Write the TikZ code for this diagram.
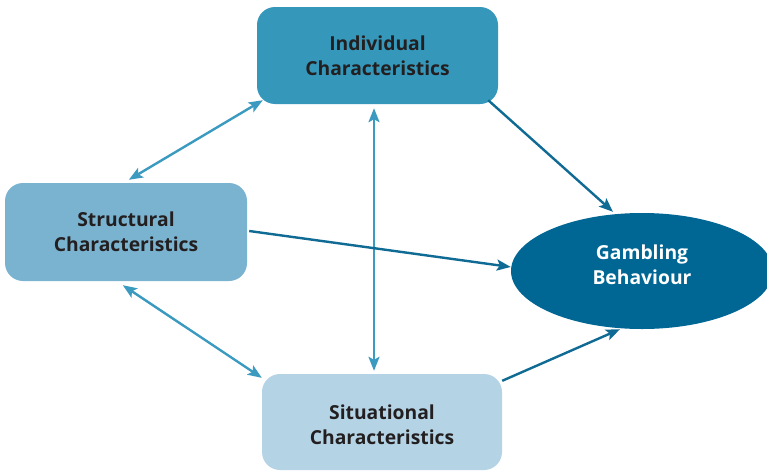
\documentclass[tikz,border=0pt]{standalone}
\usepackage{fontspec}
\setmainfont{Open Sans}
\usetikzlibrary{arrows.meta,shapes.geometric,calc}
\definecolor{indc}{HTML}{3597BA}
\definecolor{strc}{HTML}{7AB3D0}
\definecolor{sitc}{HTML}{B4D4E6}
\definecolor{gamc}{HTML}{006795}
\definecolor{lightarr}{HTML}{3A9AC0}
\definecolor{darkarr}{HTML}{0F6A94}
\definecolor{txt}{HTML}{231F20}
\tikzset{
  lbl/.style={align=center, font=\fontsize{19.3}{25}\selectfont\bfseries},
  box/.style={lbl, rounded corners=18pt, inner sep=0pt, text=txt},
  biarr/.style={draw=lightarr, line width=2.4pt,
    {Stealth[length=14pt,width=11pt,inset=3pt]}-{Stealth[length=14pt,width=11pt,inset=3pt]}},
  toarr/.style={draw=darkarr, line width=2.4pt,
    -{Stealth[length=14pt,width=11pt,inset=3pt]}}
}
\begin{document}
\begin{tikzpicture}[x=1pt,y=-1pt]
\useasboundingbox[fill=white] (0,0) rectangle (767,471);
\node[box, fill=indc, minimum width=241pt, minimum height=97pt] (ind) at (377.5,55.5) {Individual\\Characteristics};
\node[box, fill=strc, minimum width=242pt, minimum height=98pt] (str) at (126,232) {Structural\\Characteristics};
\node[box, fill=sitc, minimum width=240pt, minimum height=96pt] (sit) at (382,422) {\raisebox{0pt}[\dimexpr\height+10pt\relax][\depth]{\begin{tabular}{@{}c@{}}Situational\\Characteristics\end{tabular}}};
\node[lbl, ellipse, fill=gamc, inner sep=0pt, minimum width=262pt, minimum height=116pt,
  text=white] (gam) at (642,271) {\raisebox{0pt}[\height][\dimexpr\depth+8pt\relax]{\begin{tabular}{@{}c@{}}Gambling\\Behaviour\end{tabular}}};
% bidirectional
\draw[biarr] ($(str.north west)+(124,-3)$) -- ($(ind.south west)+(6,-4)$);
\draw[biarr] ($(ind.south)+(-3.5,4)$) -- ($(sit.north)+(-8,-3)$);
\draw[biarr] ($(str.south west)+(118,4)$) -- ($(sit.north west)+(0,4)$);
% to gambling
\draw[toarr] ($(ind.south east)+(-10,-4)$) -- ($(gam.north)+(-29,-1)$);
\draw[toarr] ($(str.east)+(2,-1)$) -- ($(gam.west)+(0,-4)$);
\draw[toarr] ($(sit.north east)+(0,7)$) -- ($(gam.south)+(-22,0)$);
\end{tikzpicture}
\end{document}
